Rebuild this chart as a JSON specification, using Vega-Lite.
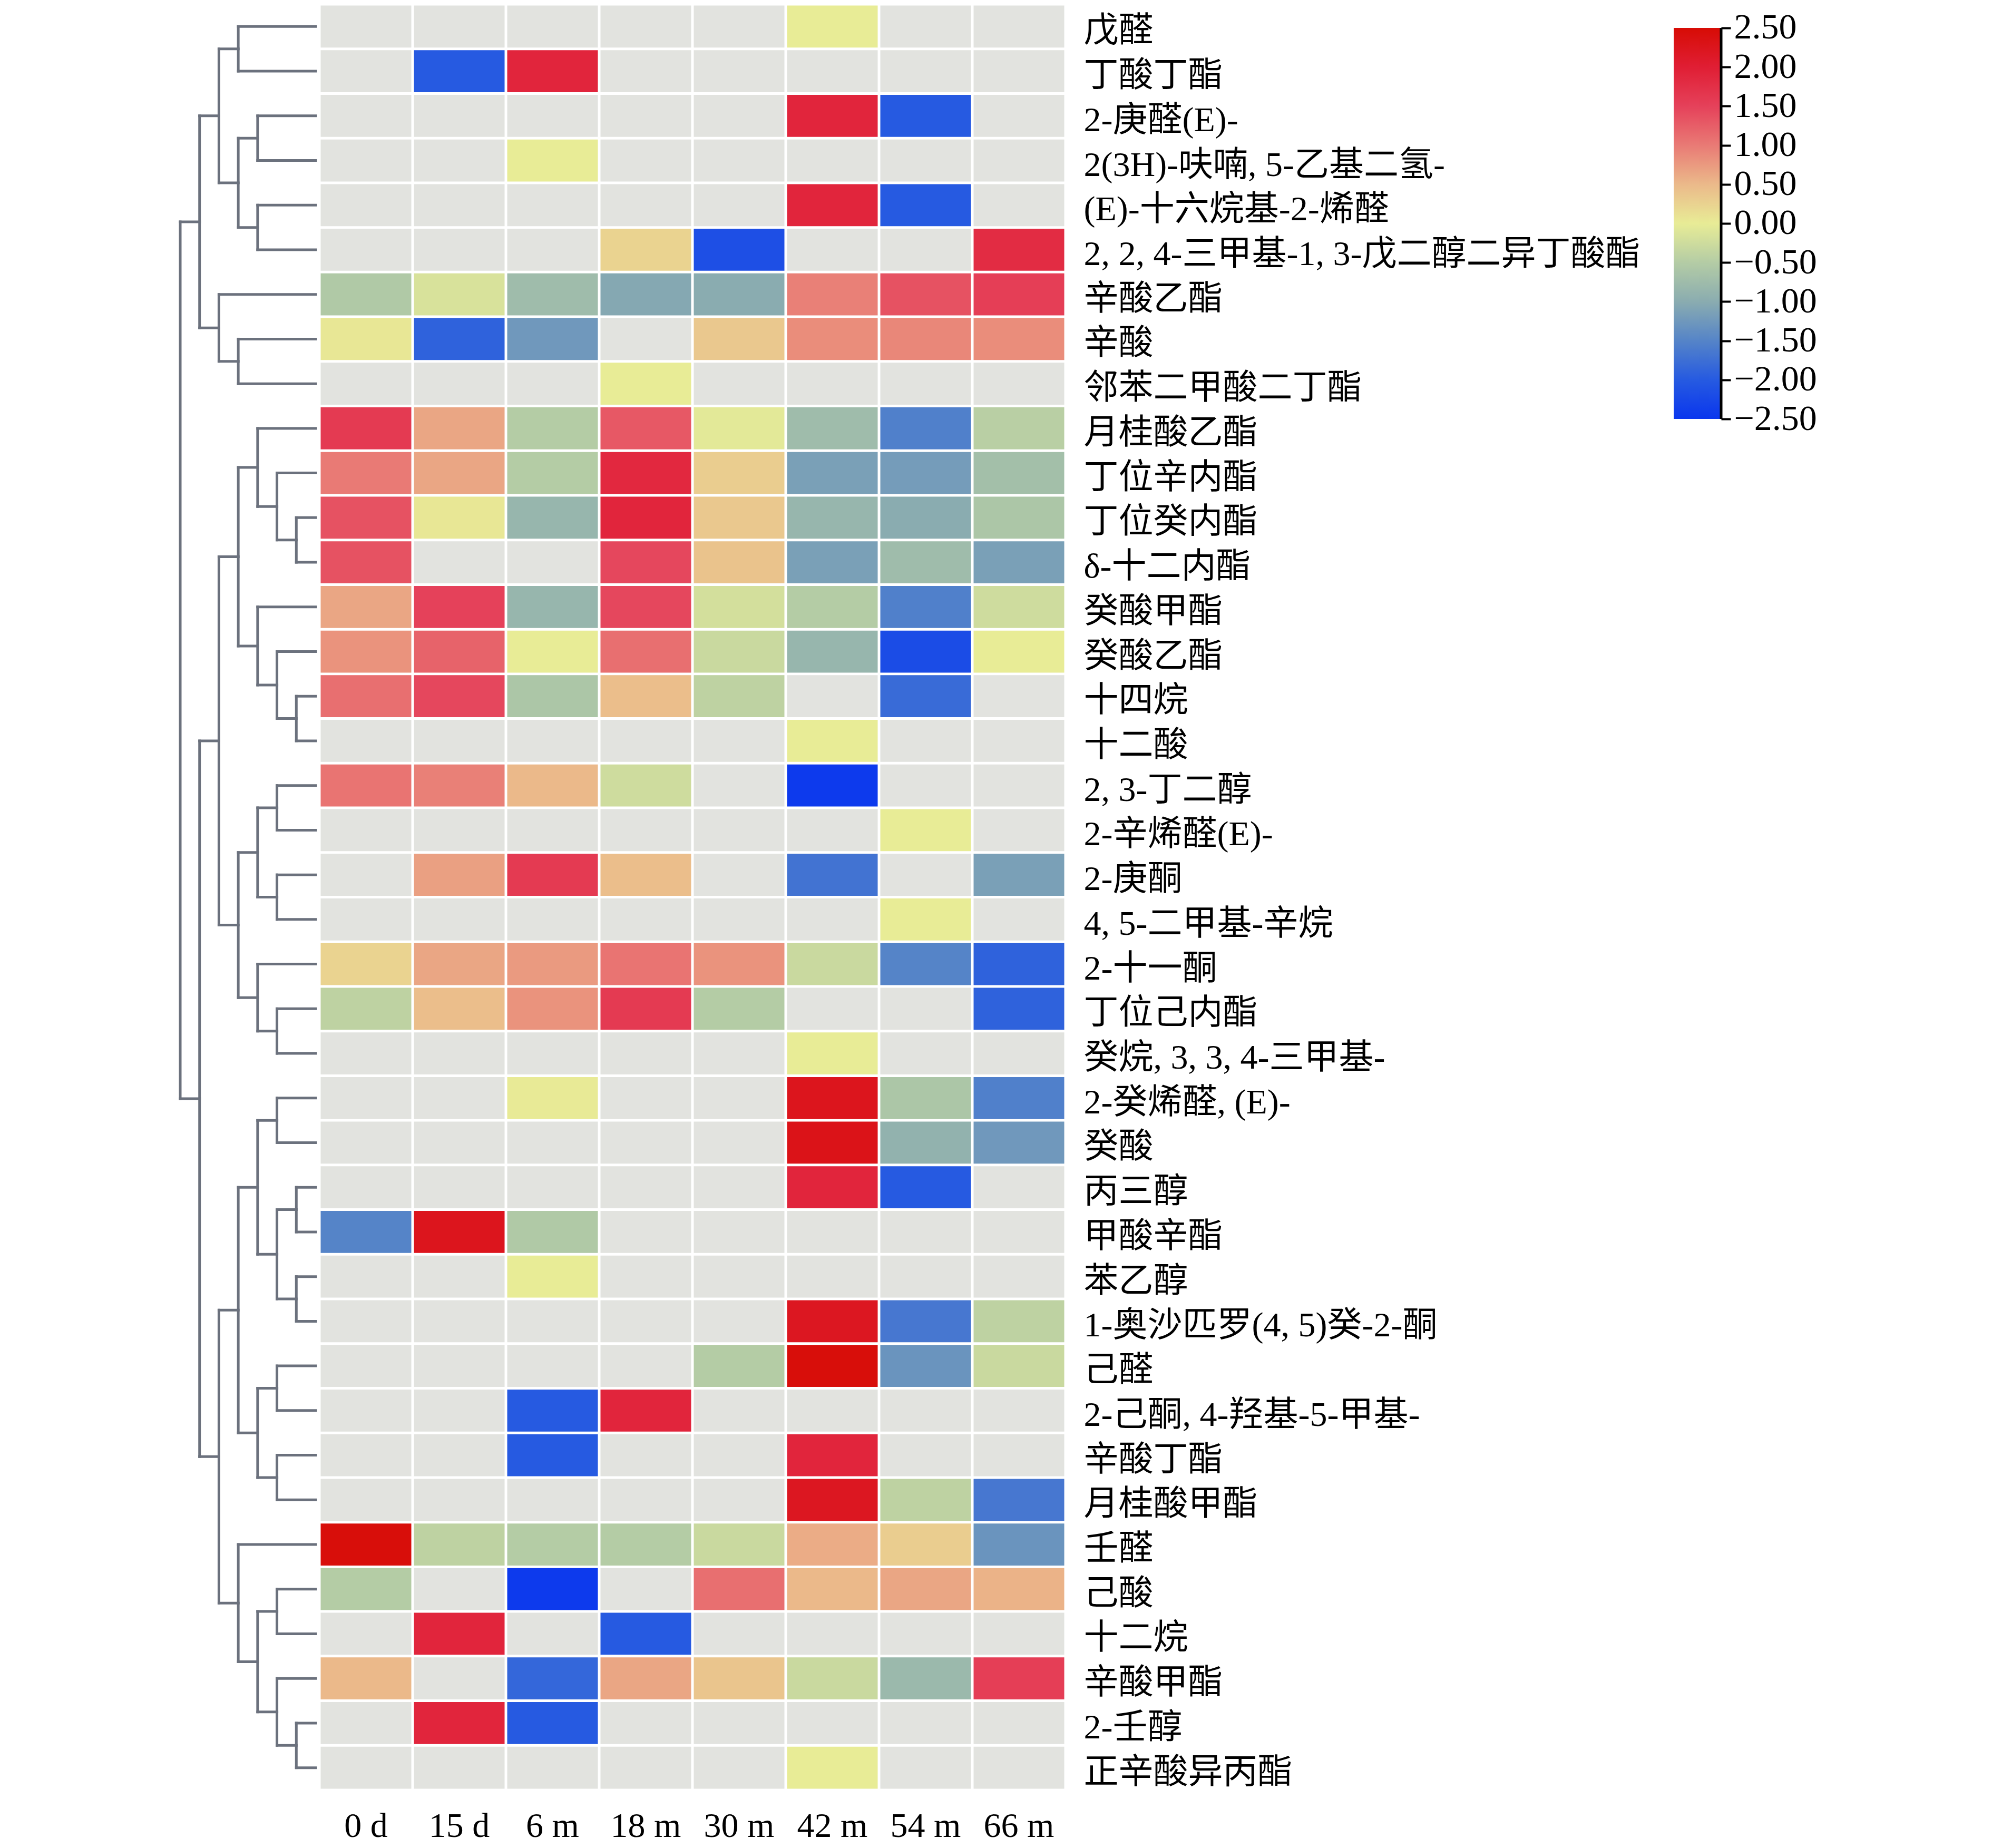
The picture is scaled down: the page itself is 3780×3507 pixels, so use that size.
{
  "$schema": "https://vega.github.io/schema/vega-lite/v6.json",
  "background": "white",
  "padding": {"left": 338, "top": 8, "right": 10, "bottom": 10},
  "config": {"view": {"stroke": null}},
  "datasets": {
    "cells": [
      {"name": "戊醛", "0 d": null, "15 d": null, "6 m": null, "18 m": null, "30 m": null, "42 m": 0.0, "54 m": null, "66 m": null},
      {"name": "丁酸丁酯", "0 d": null, "15 d": -2.0, "6 m": 1.9, "18 m": null, "30 m": null, "42 m": null, "54 m": null, "66 m": null},
      {"name": "2-庚醛(E)-", "0 d": null, "15 d": null, "6 m": null, "18 m": null, "30 m": null, "42 m": 1.9, "54 m": -2.0, "66 m": null},
      {"name": "2(3H)-呋喃, 5-乙基二氢-", "0 d": null, "15 d": null, "6 m": 0.0, "18 m": null, "30 m": null, "42 m": null, "54 m": null, "66 m": null},
      {"name": "(E)-十六烷基-2-烯醛", "0 d": null, "15 d": null, "6 m": null, "18 m": null, "30 m": null, "42 m": 1.9, "54 m": -2.0, "66 m": null},
      {"name": "2, 2, 4-三甲基-1, 3-戊二醇二异丁酸酯", "0 d": null, "15 d": null, "6 m": null, "18 m": 0.25, "30 m": -2.15, "42 m": null, "54 m": null, "66 m": 1.8},
      {"name": "辛酸乙酯", "0 d": -0.55, "15 d": -0.15, "6 m": -0.75, "18 m": -1.05, "30 m": -1.0, "42 m": 0.95, "54 m": 1.35, "66 m": 1.55},
      {"name": "辛酸", "0 d": 0.05, "15 d": -1.9, "6 m": -1.25, "18 m": null, "30 m": 0.35, "42 m": 0.85, "54 m": 0.9, "66 m": 0.85},
      {"name": "邻苯二甲酸二丁酯", "0 d": null, "15 d": null, "6 m": null, "18 m": 0.0, "30 m": null, "42 m": null, "54 m": null, "66 m": null},
      {"name": "月桂酸乙酯", "0 d": 1.6, "15 d": 0.65, "6 m": -0.5, "18 m": 1.3, "30 m": -0.05, "42 m": -0.75, "54 m": -1.55, "66 m": -0.45},
      {"name": "丁位辛内酯", "0 d": 1.0, "15 d": 0.65, "6 m": -0.5, "18 m": 1.85, "30 m": 0.3, "42 m": -1.15, "54 m": -1.2, "66 m": -0.7},
      {"name": "丁位癸内酯", "0 d": 1.35, "15 d": 0.05, "6 m": -0.85, "18 m": 1.9, "30 m": 0.35, "42 m": -0.85, "54 m": -1.0, "66 m": -0.6},
      {"name": "δ-十二内酯", "0 d": 1.35, "15 d": null, "6 m": null, "18 m": 1.45, "30 m": 0.4, "42 m": -1.15, "54 m": -0.75, "66 m": -1.15},
      {"name": "癸酸甲酯", "0 d": 0.65, "15 d": 1.5, "6 m": -0.85, "18 m": 1.45, "30 m": -0.2, "42 m": -0.5, "54 m": -1.55, "66 m": -0.25},
      {"name": "癸酸乙酯", "0 d": 0.8, "15 d": 1.2, "6 m": 0.0, "18 m": 1.1, "30 m": -0.3, "42 m": -0.85, "54 m": -2.2, "66 m": 0.0},
      {"name": "十四烷", "0 d": 1.1, "15 d": 1.45, "6 m": -0.6, "18 m": 0.45, "30 m": -0.4, "42 m": null, "54 m": -1.8, "66 m": null},
      {"name": "十二酸", "0 d": null, "15 d": null, "6 m": null, "18 m": null, "30 m": null, "42 m": 0.0, "54 m": null, "66 m": null},
      {"name": "2, 3-丁二醇", "0 d": 1.05, "15 d": 0.95, "6 m": 0.5, "18 m": -0.25, "30 m": null, "42 m": -2.45, "54 m": null, "66 m": null},
      {"name": "2-辛烯醛(E)-", "0 d": null, "15 d": null, "6 m": null, "18 m": null, "30 m": null, "42 m": null, "54 m": 0.0, "66 m": null},
      {"name": "2-庚酮", "0 d": null, "15 d": 0.7, "6 m": 1.6, "18 m": 0.45, "30 m": null, "42 m": -1.7, "54 m": null, "66 m": -1.15},
      {"name": "4, 5-二甲基-辛烷", "0 d": null, "15 d": null, "6 m": null, "18 m": null, "30 m": null, "42 m": null, "54 m": 0.0, "66 m": null},
      {"name": "2-十一酮", "0 d": 0.25, "15 d": 0.65, "6 m": 0.75, "18 m": 1.05, "30 m": 0.8, "42 m": -0.3, "54 m": -1.5, "66 m": -1.9},
      {"name": "丁位己内酯", "0 d": -0.4, "15 d": 0.45, "6 m": 0.8, "18 m": 1.6, "30 m": -0.5, "42 m": null, "54 m": null, "66 m": -1.9},
      {"name": "癸烷, 3, 3, 4-三甲基-", "0 d": null, "15 d": null, "6 m": null, "18 m": null, "30 m": null, "42 m": 0.0, "54 m": null, "66 m": null},
      {"name": "2-癸烯醛, (E)-", "0 d": null, "15 d": null, "6 m": 0.02, "18 m": null, "30 m": null, "42 m": 2.25, "54 m": -0.6, "66 m": -1.55},
      {"name": "癸酸", "0 d": null, "15 d": null, "6 m": null, "18 m": null, "30 m": null, "42 m": 2.3, "54 m": -0.9, "66 m": -1.25},
      {"name": "丙三醇", "0 d": null, "15 d": null, "6 m": null, "18 m": null, "30 m": null, "42 m": 1.9, "54 m": -2.0, "66 m": null},
      {"name": "甲酸辛酯", "0 d": -1.5, "15 d": 2.25, "6 m": -0.55, "18 m": null, "30 m": null, "42 m": null, "54 m": null, "66 m": null},
      {"name": "苯乙醇", "0 d": null, "15 d": null, "6 m": 0.0, "18 m": null, "30 m": null, "42 m": null, "54 m": null, "66 m": null},
      {"name": "1-奥沙匹罗(4, 5)癸-2-酮", "0 d": null, "15 d": null, "6 m": null, "18 m": null, "30 m": null, "42 m": 2.2, "54 m": -1.65, "66 m": -0.4},
      {"name": "己醛", "0 d": null, "15 d": null, "6 m": null, "18 m": null, "30 m": -0.5, "42 m": 2.45, "54 m": -1.3, "66 m": -0.3},
      {"name": "2-己酮, 4-羟基-5-甲基-", "0 d": null, "15 d": null, "6 m": -2.0, "18 m": 1.9, "30 m": null, "42 m": null, "54 m": null, "66 m": null},
      {"name": "辛酸丁酯", "0 d": null, "15 d": null, "6 m": -2.0, "18 m": null, "30 m": null, "42 m": 1.9, "54 m": null, "66 m": null},
      {"name": "月桂酸甲酯", "0 d": null, "15 d": null, "6 m": null, "18 m": null, "30 m": null, "42 m": 2.2, "54 m": -0.4, "66 m": -1.65},
      {"name": "壬醛", "0 d": 2.45, "15 d": -0.4, "6 m": -0.5, "18 m": -0.5, "30 m": -0.3, "42 m": 0.6, "54 m": 0.3, "66 m": -1.3},
      {"name": "己酸", "0 d": -0.5, "15 d": null, "6 m": -2.45, "18 m": null, "30 m": 1.1, "42 m": 0.5, "54 m": 0.65, "66 m": 0.55},
      {"name": "十二烷", "0 d": null, "15 d": 1.9, "6 m": null, "18 m": -2.0, "30 m": null, "42 m": null, "54 m": null, "66 m": null},
      {"name": "辛酸甲酯", "0 d": 0.5, "15 d": null, "6 m": -1.85, "18 m": 0.65, "30 m": 0.38, "42 m": -0.3, "54 m": -0.8, "66 m": 1.55},
      {"name": "2-壬醇", "0 d": null, "15 d": 1.9, "6 m": -2.0, "18 m": null, "30 m": null, "42 m": null, "54 m": null, "66 m": null},
      {"name": "正辛酸异丙酯", "0 d": null, "15 d": null, "6 m": null, "18 m": null, "30 m": null, "42 m": 0.0, "54 m": null, "66 m": null}
    ],
    "tree": [
      {"h": 4, "ha": 0, "ya": 1, "hb": 0, "yb": 2},
      {"h": 3, "ha": 0, "ya": 3, "hb": 0, "yb": 4},
      {"h": 3, "ha": 0, "ya": 5, "hb": 0, "yb": 6},
      {"h": 4, "ha": 3, "ya": 3.5, "hb": 3, "yb": 5.5},
      {"h": 5, "ha": 4, "ya": 1.5, "hb": 4, "yb": 4.5},
      {"h": 4, "ha": 0, "ya": 8, "hb": 0, "yb": 9},
      {"h": 5, "ha": 0, "ya": 7, "hb": 4, "yb": 8.5},
      {"h": 6, "ha": 5, "ya": 3, "hb": 5, "yb": 7.75},
      {"h": 1, "ha": 0, "ya": 12, "hb": 0, "yb": 13},
      {"h": 2, "ha": 0, "ya": 11, "hb": 1, "yb": 12.5},
      {"h": 3, "ha": 0, "ya": 10, "hb": 2, "yb": 11.75},
      {"h": 1, "ha": 0, "ya": 16, "hb": 0, "yb": 17},
      {"h": 2, "ha": 0, "ya": 15, "hb": 1, "yb": 16.5},
      {"h": 3, "ha": 0, "ya": 14, "hb": 2, "yb": 15.75},
      {"h": 4, "ha": 3, "ya": 10.875, "hb": 3, "yb": 14.875},
      {"h": 2, "ha": 0, "ya": 18, "hb": 0, "yb": 19},
      {"h": 2, "ha": 0, "ya": 20, "hb": 0, "yb": 21},
      {"h": 3, "ha": 2, "ya": 18.5, "hb": 2, "yb": 20.5},
      {"h": 2, "ha": 0, "ya": 23, "hb": 0, "yb": 24},
      {"h": 3, "ha": 0, "ya": 22, "hb": 2, "yb": 23.5},
      {"h": 4, "ha": 3, "ya": 19.5, "hb": 3, "yb": 22.75},
      {"h": 5, "ha": 4, "ya": 12.875, "hb": 4, "yb": 21.125},
      {"h": 2, "ha": 0, "ya": 25, "hb": 0, "yb": 26},
      {"h": 1, "ha": 0, "ya": 27, "hb": 0, "yb": 28},
      {"h": 1, "ha": 0, "ya": 29, "hb": 0, "yb": 30},
      {"h": 2, "ha": 1, "ya": 27.5, "hb": 1, "yb": 29.5},
      {"h": 3, "ha": 2, "ya": 25.5, "hb": 2, "yb": 28.5},
      {"h": 2, "ha": 0, "ya": 31, "hb": 0, "yb": 32},
      {"h": 2, "ha": 0, "ya": 33, "hb": 0, "yb": 34},
      {"h": 3, "ha": 2, "ya": 31.5, "hb": 2, "yb": 33.5},
      {"h": 4, "ha": 3, "ya": 27, "hb": 3, "yb": 32.5},
      {"h": 2, "ha": 0, "ya": 36, "hb": 0, "yb": 37},
      {"h": 1, "ha": 0, "ya": 39, "hb": 0, "yb": 40},
      {"h": 2, "ha": 0, "ya": 38, "hb": 1, "yb": 39.5},
      {"h": 3, "ha": 2, "ya": 36.5, "hb": 2, "yb": 38.75},
      {"h": 4, "ha": 0, "ya": 35, "hb": 3, "yb": 37.625},
      {"h": 5, "ha": 4, "ya": 29.75, "hb": 4, "yb": 36.3125},
      {"h": 6, "ha": 5, "ya": 17, "hb": 5, "yb": 33.03125},
      {"h": 7, "ha": 6, "ya": 5.375, "hb": 6, "yb": 25.015625}
    ],
    "bar": [{"lo": -2.5, "hi": 2.5, "a": 0, "b": 1}]
  },
  "spacing": 64,
  "hconcat": [
    {
      "spacing": 3,
      "hconcat": [
        {
          "width": 257,
          "height": 3389,
          "data": {"name": "tree"},
          "layer": [
            {
              "mark": {"type": "rule", "color": "#6b717d", "strokeWidth": 5, "strokeCap": "square"},
              "encoding": {
                "x": {"field": "h", "type": "quantitative", "scale": {"domain": [0, 7], "reverse": true, "nice": false, "zero": false}, "axis": null},
                "y": {"field": "ya", "type": "quantitative", "scale": {"domain": [0.5, 40.5], "reverse": true, "nice": false, "zero": false}, "axis": null},
                "y2": {"field": "yb"}
              }
            },
            {
              "mark": {"type": "rule", "color": "#6b717d", "strokeWidth": 5, "strokeCap": "square"},
              "encoding": {
                "x": {"field": "ha", "type": "quantitative", "scale": {"domain": [0, 7], "reverse": true, "nice": false, "zero": false}, "axis": null},
                "x2": {"field": "h"},
                "y": {"field": "ya", "type": "quantitative", "scale": {"domain": [0.5, 40.5], "reverse": true, "nice": false, "zero": false}, "axis": null}
              }
            },
            {
              "mark": {"type": "rule", "color": "#6b717d", "strokeWidth": 5, "strokeCap": "square"},
              "encoding": {
                "x": {"field": "hb", "type": "quantitative", "scale": {"domain": [0, 7], "reverse": true, "nice": false, "zero": false}, "axis": null},
                "x2": {"field": "h"},
                "y": {"field": "yb", "type": "quantitative", "scale": {"domain": [0.5, 40.5], "reverse": true, "nice": false, "zero": false}, "axis": null}
              }
            }
          ]
        },
        {
          "width": 1416,
          "height": 3389,
          "data": {"name": "cells"},
          "transform": [
            {"fold": ["0 d", "15 d", "6 m", "18 m", "30 m", "42 m", "54 m", "66 m"], "as": ["t", "v"]}
          ],
          "mark": {"type": "rect", "invalid": "show"},
          "encoding": {
            "x": {
              "field": "t", "type": "nominal", "sort": null,
              "scale": {"paddingInner": 0.0282, "paddingOuter": 0.0141},
              "axis": {"orient": "bottom", "title": null, "ticks": false, "domain": false, "labelAngle": 0, "labelFontSize": 66, "labelFont": "Liberation Serif", "labelColor": "black", "labelPadding": 36}
            },
            "y": {
              "field": "name", "type": "nominal", "sort": null,
              "scale": {"paddingInner": 0.059, "paddingOuter": 0.0295},
              "axis": {"orient": "right", "title": null, "ticks": false, "domain": false, "labelFontSize": 66, "labelFont": "'Liberation Serif', 'Noto Sans CJK SC'", "labelColor": "black", "labelPadding": 34, "labelOffset": 9, "labelLimit": 0, "labelAlign": "left"}
            },
            "color": {
              "condition": {"test": "!isValid(datum.v)", "value": "#e2e3df"},
              "field": "v", "type": "quantitative",
              "scale": {
                "domain": [-2.5, -2, -1.5, -1, -0.5, 0, 0.5, 1, 1.5, 2, 2.5],
                "range": ["#0a36ee", "#265ae1", "#5584c8", "#8aacb0", "#b4cca5", "#e8ec96", "#ebb98a", "#e97a75", "#e5415a", "#e01e34", "#d70c05"],
                "interpolate": "rgb"
              },
              "legend": null
            }
          }
        }
      ]
    },
    {
      "width": 90,
      "height": 787,
      "data": {"name": "bar"},
      "layer": [
        {
          "mark": {
            "type": "rect",
            "fill": {
              "gradient": "linear", "x1": 0, "y1": 1, "x2": 0, "y2": 0,
              "stops": [
                {"offset": 0, "color": "#0a36ee"},
                {"offset": 0.1, "color": "#265ae1"},
                {"offset": 0.2, "color": "#5584c8"},
                {"offset": 0.3, "color": "#8aacb0"},
                {"offset": 0.4, "color": "#b4cca5"},
                {"offset": 0.5, "color": "#e8ec96"},
                {"offset": 0.6, "color": "#ebb98a"},
                {"offset": 0.7, "color": "#e97a75"},
                {"offset": 0.8, "color": "#e5415a"},
                {"offset": 0.9, "color": "#e01e34"},
                {"offset": 1, "color": "#d70c05"}
              ]
            },
            "strokeWidth": 0
          },
          "encoding": {
            "x": {"field": "a", "type": "quantitative", "scale": {"domain": [0, 1], "nice": false}, "axis": null},
            "x2": {"field": "b"},
            "y": {
              "field": "lo", "type": "quantitative",
              "scale": {"domain": [-2.5, 2.80323], "nice": false, "zero": false},
              "axis": {"orient": "right", "title": null, "values": [-2.5, -2, -1.5, -1, -0.5, 0, 0.5, 1, 1.5, 2, 2.5], "format": ".2f", "domain": false, "grid": false, "ticks": true, "tickSize": 18, "tickWidth": 4, "tickColor": "black", "labelFontSize": 68, "labelFont": "Liberation Serif", "labelColor": "black", "labelPadding": 6, "labelOverlap": false, "labelFlush": false, "labelBound": false}
            },
            "y2": {"field": "hi"}
          }
        },
        {
          "mark": {"type": "rule", "color": "black", "strokeWidth": 5},
          "encoding": {
            "x": {"field": "b", "type": "quantitative", "scale": {"domain": [0, 1], "nice": false}, "axis": null},
            "y": {"field": "lo", "type": "quantitative", "scale": {"domain": [-2.5, 2.80323], "nice": false, "zero": false}},
            "y2": {"field": "hi"}
          }
        }
      ]
    }
  ]
}
